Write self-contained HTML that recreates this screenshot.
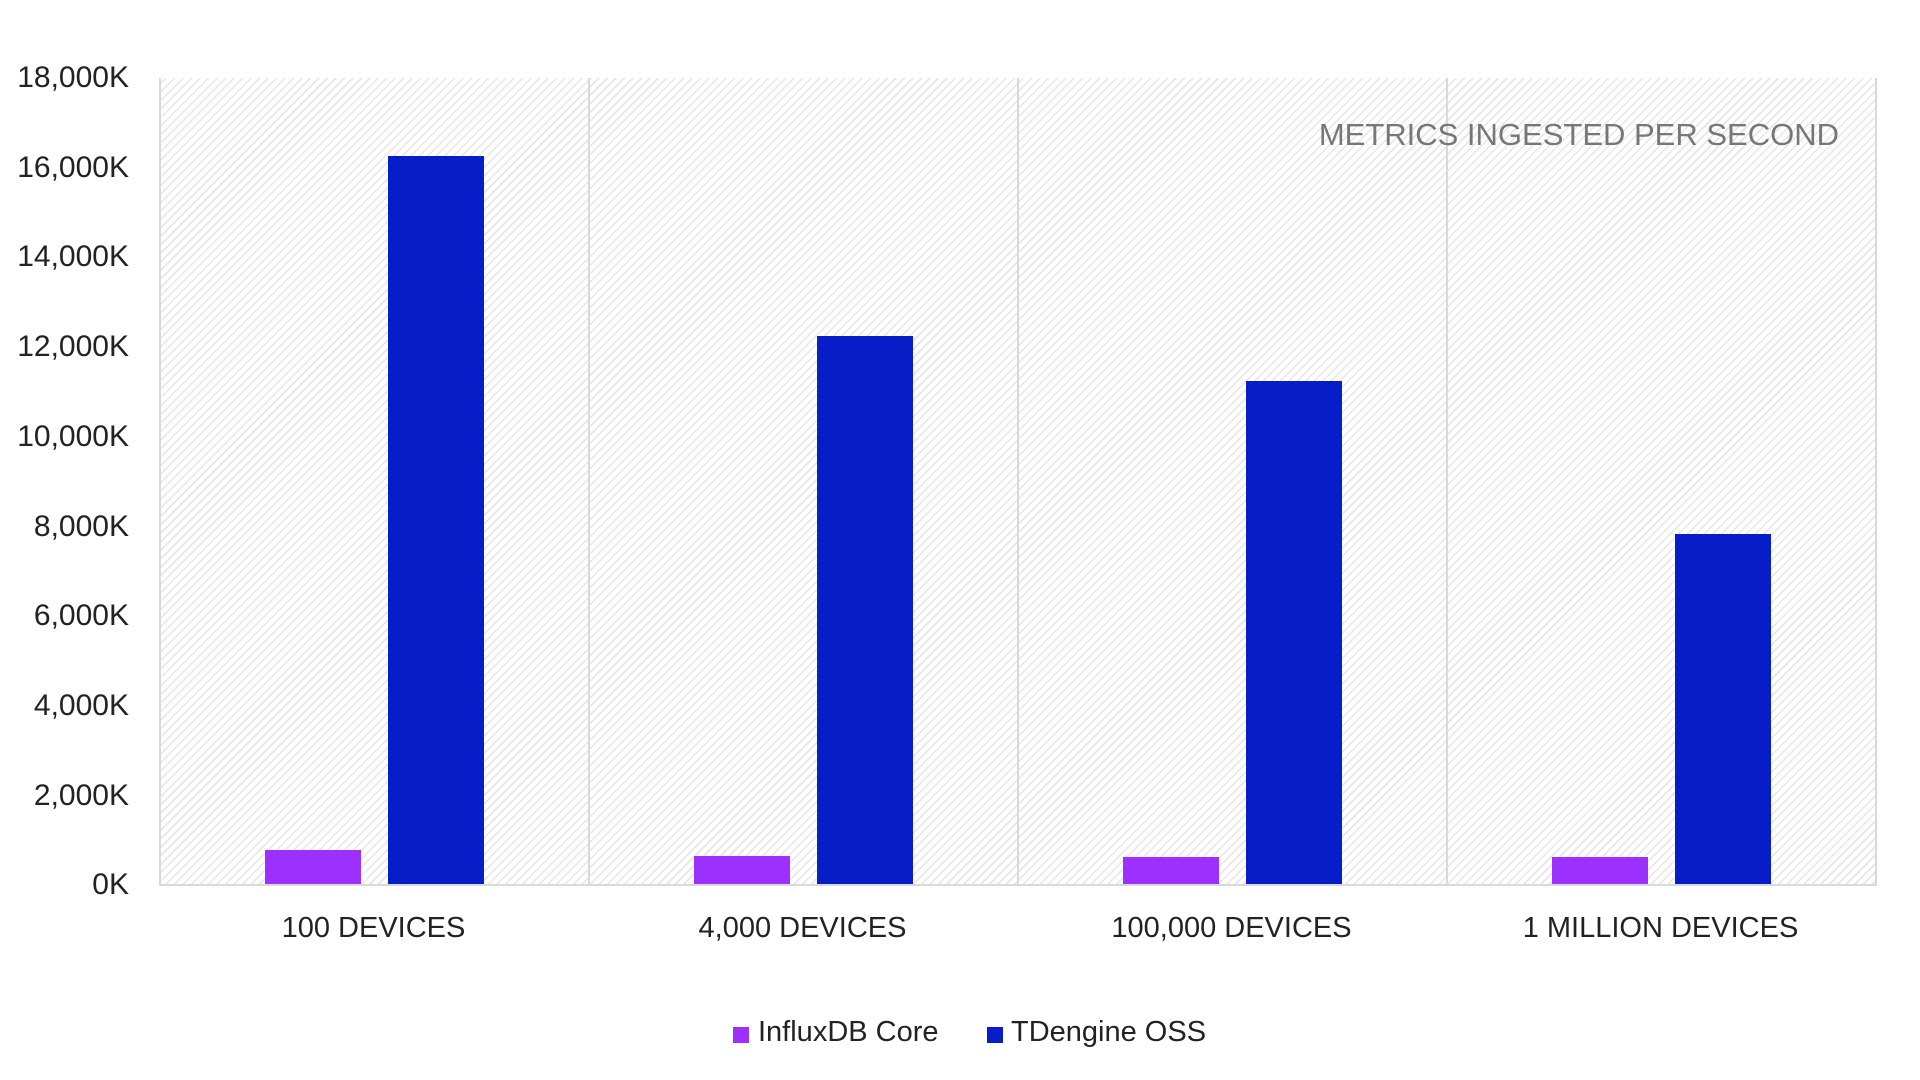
<!DOCTYPE html>
<html><head><style>
body{margin:0;width:1920px;height:1080px;background:#fff;font-family:"Liberation Sans",sans-serif;position:relative;overflow:hidden}
.plot{position:absolute;left:159px;top:78px;width:1718px;height:808px;
background:repeating-linear-gradient(135deg,#fff 0 3px,#e6e6e6 3px 4.5px,#fff 4.5px 6px);
border-left:2px solid #d9d9d9;border-right:2px solid #d9d9d9;border-bottom:2px solid #d9d9d9;box-sizing:border-box}
.div{position:absolute;top:78px;height:808px;width:2px;background:#d9d9d9}
.yl{position:absolute;right:1791px;font-size:30px;color:#222;transform:translateY(-50%)}
.bar{position:absolute;width:96px;bottom:196px}
.p{background:#9b30ff}.b{background:#061dc8}
.cl{position:absolute;top:912px;font-size:29px;color:#222;width:429px;text-align:center}
</style></head><body>
<div class="plot"></div>
<div class="div" style="left:588px"></div>
<div class="div" style="left:1017px"></div>
<div class="div" style="left:1446px"></div>
<div style="position:absolute;right:81px;top:117px;font-size:31px;color:#777">METRICS INGESTED PER SECOND</div>
<div class="yl" style="top:78px">18,000K</div>
<div class="yl" style="top:168px">16,000K</div>
<div class="yl" style="top:257px">14,000K</div>
<div class="yl" style="top:347px">12,000K</div>
<div class="yl" style="top:437px">10,000K</div>
<div class="yl" style="top:527px">8,000K</div>
<div class="yl" style="top:616px">6,000K</div>
<div class="yl" style="top:706px">4,000K</div>
<div class="yl" style="top:796px">2,000K</div>
<div class="yl" style="top:885px">0K</div>
<div class="bar p" style="left:265px;height:34px"></div>
<div class="bar b" style="left:388px;height:728px"></div>
<div class="bar p" style="left:694px;height:28px"></div>
<div class="bar b" style="left:817px;height:548px"></div>
<div class="bar p" style="left:1123px;height:27px"></div>
<div class="bar b" style="left:1246px;height:503px"></div>
<div class="bar p" style="left:1552px;height:27px"></div>
<div class="bar b" style="left:1675px;height:350px"></div>
<div class="cl" style="left:159px">100 DEVICES</div>
<div class="cl" style="left:588px">4,000 DEVICES</div>
<div class="cl" style="left:1017px">100,000 DEVICES</div>
<div class="cl" style="left:1446px">1 MILLION DEVICES</div>
<div style="position:absolute;left:733px;top:1027px;width:16px;height:16px;background:#9b30ff"></div>
<div style="position:absolute;left:758px;top:1016px;font-size:29px;color:#222">InfluxDB Core</div>
<div style="position:absolute;left:987px;top:1027px;width:16px;height:16px;background:#061dc8"></div>
<div style="position:absolute;left:1011px;top:1016px;font-size:29px;color:#222">TDengine OSS</div>
</body></html>
